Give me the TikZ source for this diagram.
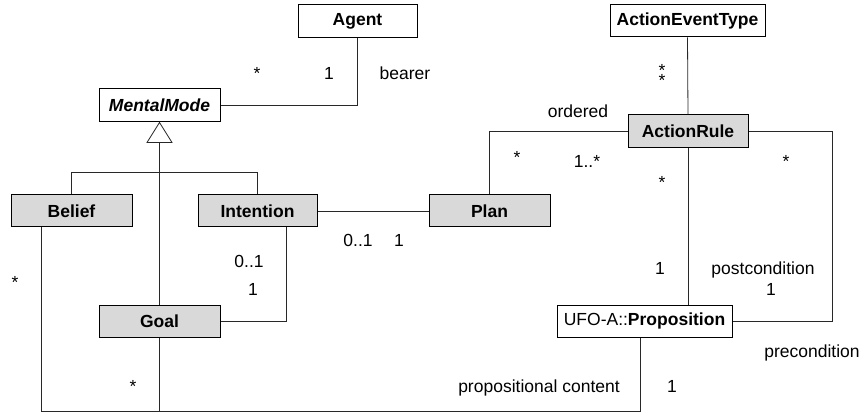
\documentclass[tikz,border=0pt]{standalone}
\usepackage{fontspec}
\setmainfont{Liberation Sans}
\begin{document}
\definecolor{classfill}{RGB}{217,217,217}
\definecolor{linecol}{RGB}{40,40,40}
\begin{tikzpicture}[x=1pt,y=-1pt,
  font=\fontsize{17.5}{21}\selectfont,
  cls/.style={draw=black, line width=1pt, fill=white, inner sep=0pt,
    font=\fontsize{17.5}{21}\selectfont\bfseries, minimum height=32pt},
  grey/.style={cls, fill=classfill},
  assoc/.style={draw=linecol, line width=0.8pt},
  lbl/.style={anchor=base, inner sep=0pt}]
\useasboundingbox (0,0) rectangle (865,414);

% classes
\node[cls, minimum width=119pt, minimum height=33pt] (agent) at (357.5,21.5) {Agent};
\node[cls, minimum width=121pt, minimum height=33pt] (mm) at (159.5,105.5) {\itshape MentalMode};
\node[grey, minimum width=121pt] (belief) at (71.5,211) {Belief};
\node[grey, minimum width=119pt] (intention) at (257.5,211) {Intention};
\node[grey, minimum width=121pt] (plan) at (489.5,211) {Plan};
\node[grey, minimum width=121pt] (goal) at (159.5,321) {Goal};
\node[cls, minimum width=155pt] (aet) at (687.5,21) {ActionEventType};
\node[grey, minimum width=120pt, minimum height=33pt] (arule) at (688,131.5) {ActionRule};
\node[cls, minimum width=175pt] (prop) at (644.5,321) {\mdseries UFO-A::\bfseries Proposition};

% generalization of the mental modes
\coordinate (gen) at ([yshift=-20pt]mm.south);
\draw[assoc, fill=white] (mm.south) -- ([xshift=-12.5pt]gen) -- ([xshift=12.5pt]gen) -- cycle;
\draw[assoc] (gen) -- (goal.north);
\coordinate (fork) at ([yshift=-30pt]gen);
\draw[assoc] (belief.north) -- (belief.north |- fork) -- (intention.north |- fork) -- (intention.north);

% associations
\draw[assoc] (agent.south) |- (mm.east);
\draw[assoc] (intention.east) -- (plan.west);
\coordinate (ig) at ([xshift=-31pt]intention.south east);
\draw[assoc] (ig) |- (goal.east);
\draw[assoc] (aet.south) -- (arule.north);
\draw[assoc] (arule.west) -| (plan.north);
\draw[assoc] (arule.east) -- ++(84,0) |- (prop.east);
\draw[assoc] (arule.south) -- (arule.south |- prop.north);

% propositional content
\coordinate (base) at (0,411);
\coordinate (bl) at ([xshift=-29.8pt]belief.south);
\coordinate (pr) at ([xshift=-4.5pt]prop.south);
\draw[assoc] (bl) -- (bl |- base) -- (pr |- base) -- (pr);
\draw[assoc] (goal.south) -- (goal.south |- base);

% multiplicities and role names
\node[lbl] (m1) at (257,80) {*};
\node[lbl] (m2) at (329,80) {1};
\node[lbl] (r1) at (405,80) {bearer};
\node[lbl] (m3) at (662,77) {*};
\node[lbl] (m4) at (662,87) {*};
\node[lbl] (r2) at (578,118) {ordered};
\node[lbl] (m5) at (517,163.5) {*};
\node[lbl] (m6) at (587,168) {1..*};
\node[lbl] (m7) at (786,167.5) {*};
\node[lbl] (m8) at (662,188.5) {*};
\node[lbl] (m9) at (358,247) {0..1};
\node[lbl] (m10) at (399,247) {1};
\node[lbl] (m11) at (249,268) {0..1};
\node[lbl] (m12) at (253,295) {1};
\node[lbl] (m13) at (15,288.5) {*};
\node[lbl] (m14) at (660,274) {1};
\node[lbl] (r3) at (763,274) {postcondition};
\node[lbl] (m15) at (771,295) {1};
\node[lbl] (r4) at (812,357) {precondition};
\node[lbl] (m16) at (133,392.5) {*};
\node[lbl] (r5) at (539,392) {propositional content};
\node[lbl] (m17) at (672,392) {1};
\end{tikzpicture}
\end{document}
